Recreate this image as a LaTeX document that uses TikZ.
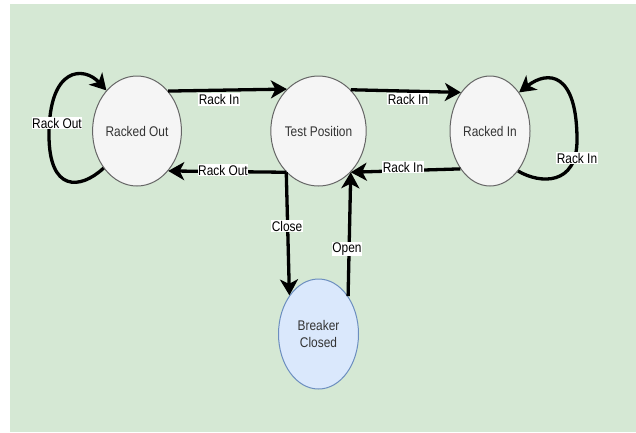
\documentclass[tikz,border=0pt]{standalone}
\usepackage{fontspec}
\setmainfont{Liberation Sans}[FakeStretch=0.85]
\usetikzlibrary{shapes.geometric,arrows.meta}
\definecolor{bggreen}{HTML}{D5E8D4}
\definecolor{greyfill}{HTML}{F5F5F5}
\definecolor{greyline}{HTML}{666666}
\definecolor{greytext}{HTML}{333333}
\definecolor{bluefill}{HTML}{DAE8FC}
\definecolor{blueline}{HTML}{6C8EBF}
\begin{document}
\begin{tikzpicture}[x=1pt,y=-1pt,
  state/.style={ellipse, draw=greyline, fill=greyfill, line width=1pt,
    minimum width=80pt, minimum height=110pt, inner sep=0pt,
    font=\fontsize{14}{17}\selectfont, text=greytext, align=center},
  bluestate/.style={state, draw=blueline, fill=bluefill},
  conn/.style={line width=3.3pt, -{Stealth[length=16pt,width=18pt,inset=4.5pt]}},
  lbl/.style={fill=white, inner xsep=0.5pt, inner ysep=1pt,
    font=\fontsize{14}{17}\selectfont, text=black}]
\useasboundingbox (0,0) rectangle (636,432);
\fill[white] (0,0) rectangle (636,432);
\fill[bggreen] (10,4) rectangle (636,432);

\node[state] (RO) at (137,131) {Racked Out};
\node[state] (TP) at (318.5,131) {Test Position};
\node[state] (RI) at (490,131) {Racked In};
\node[bluestate] (BC) at (318.5,334) {Breaker\\Closed};

\draw[conn] (RO.52.7) -- (TP.127.3);
\draw[conn] (TP.52.7) -- (RI.127.3);
\draw[conn] (RI.232.7) -- (TP.-52.7);
\draw[conn] (TP.232.7) -- (RO.-52.7);
\draw[conn] (TP.232.7) -- (BC.127.3);
\draw[conn] (BC.52.7) -- (TP.-52.7);
\draw[conn] (RO.228) .. controls (80,190) and (49,192) .. (49,135)
  .. controls (49,66) and (84,66) .. (RO.127);
\draw[conn] (RI.-55) .. controls (540,184) and (577,186) .. (577,140)
  .. controls (577,72) and (548,70) .. (RI.53);

\node[lbl] (l1) at (219,99.5) {Rack In};
\node[lbl] (l2) at (408,99) {Rack In};
\node[lbl] (l3) at (403,167) {Rack In};
\node[lbl] (l4) at (223,170) {Rack Out};
\node[lbl] (l5) at (287,226) {Close};
\node[lbl] (l6) at (347,249) {Open};
\node[lbl] (l7) at (57,123) {Rack Out};
\node[lbl] (l8) at (577,158) {Rack In};
\end{tikzpicture}
\end{document}
